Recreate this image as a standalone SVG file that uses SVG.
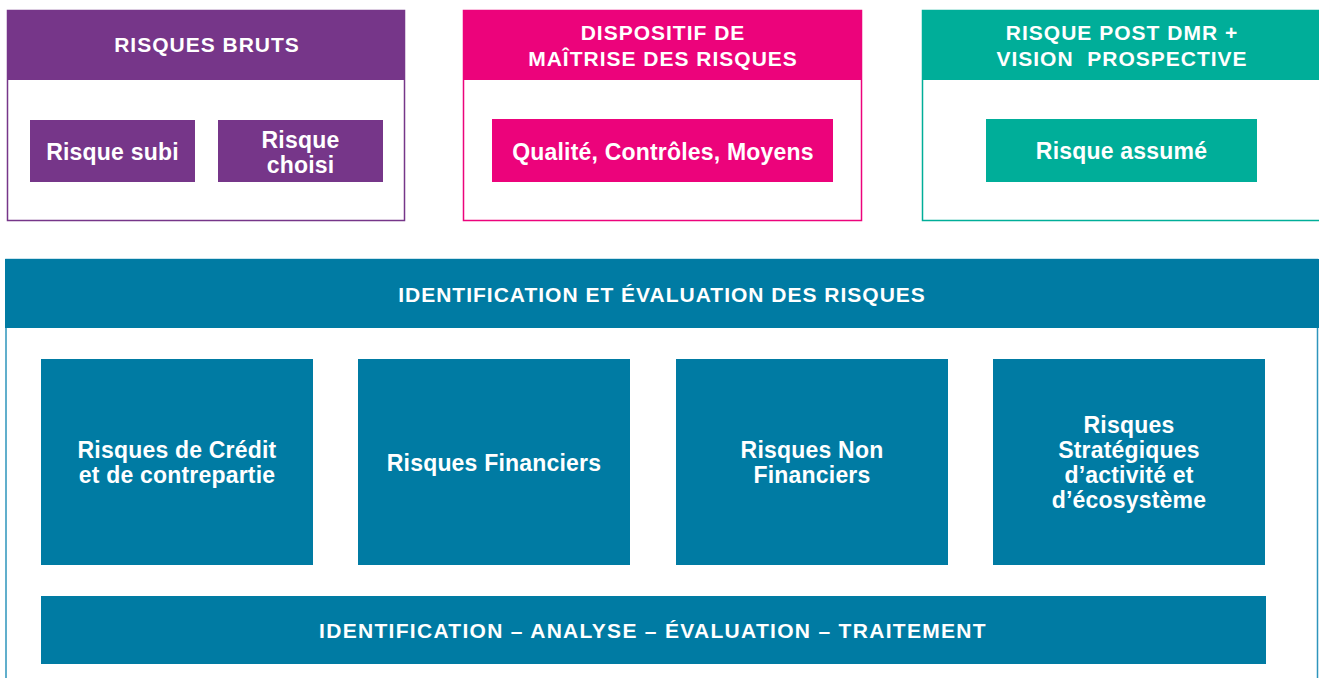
<svg xmlns="http://www.w3.org/2000/svg" width="1319" height="678" viewBox="0 0 1319 678">
<style>
text{font-family:"Liberation Sans",Arial,sans-serif;font-weight:bold;fill:#fff;text-anchor:middle}
.h{font-size:21px;letter-spacing:1px}
.f{font-size:21px;letter-spacing:1.3px}
.t{font-size:23px;letter-spacing:0.2px}
.p{fill:#763689}
.m{fill:#EC037B}
.g{fill:#00AE99}
.b{fill:#007BA3}
</style>
<rect width="1319" height="678" fill="#fff"/>
<g id="risques-bruts">
<rect x="7.5" y="10.5" width="397" height="210" fill="#fff" stroke="#763689" stroke-width="1.5"/>
<rect class="p" x="7" y="10" width="398" height="70"/>
<text class="h" x="207" y="52">RISQUES BRUTS</text>
</g>
<g id="risque-subi"><rect class="p" x="30" y="120" width="165" height="62"/><text class="t" x="112.5" y="160">Risque subi</text></g>
<g id="risque-choisi"><rect class="p" x="218" y="120" width="165" height="62"/><text class="t" x="300.5" y="148">Risque</text><text class="t" x="300.5" y="173">choisi</text></g>
<g id="dmr">
<rect x="463.5" y="10.5" width="398" height="210" fill="#fff" stroke="#EC037B" stroke-width="1.5"/>
<rect class="m" x="463" y="10" width="399" height="70"/>
<text class="h" x="663" y="40">DISPOSITIF DE</text>
<text class="h" x="663" y="66">MAÎTRISE DES RISQUES</text>
</g>
<g id="qualite"><rect class="m" x="492" y="119" width="341" height="63"/><text class="t" x="663" y="160">Qualité, Contrôles, Moyens</text></g>
<g id="post-dmr">
<rect x="922.5" y="10.5" width="400" height="210" fill="#fff" stroke="#00AE99" stroke-width="1.5"/>
<rect class="g" x="922" y="10" width="397" height="70"/>
<text class="h" x="1122" y="40">RISQUE POST DMR +</text>
<text class="h" x="1122" y="66" xml:space="preserve">VISION  PROSPECTIVE</text>
</g>
<g id="risque-assume"><rect class="g" x="986" y="119" width="271" height="63"/><text class="t" x="1121.5" y="159">Risque assumé</text></g>
<g id="identification">
<rect x="6" y="259.5" width="1311.5" height="430" fill="#fff" stroke="#2E95BC" stroke-width="1.5"/>
<rect class="b" x="5" y="259" width="1314" height="69"/>
<text class="h" x="662" y="302">IDENTIFICATION ET ÉVALUATION DES RISQUES</text>
</g>
<g id="credit"><rect class="b" x="41" y="359" width="272" height="206"/><text class="t" x="177" y="458">Risques de Crédit</text><text class="t" x="177" y="483">et de contrepartie</text></g>
<g id="financiers"><rect class="b" x="358" y="359" width="272" height="206"/><text class="t" x="494" y="471">Risques Financiers</text></g>
<g id="non-financiers"><rect class="b" x="676" y="359" width="272" height="206"/><text class="t" x="812" y="458">Risques Non</text><text class="t" x="812" y="483">Financiers</text></g>
<g id="strategiques"><rect class="b" x="993" y="359" width="272" height="206"/><text class="t" x="1129" y="433">Risques</text><text class="t" x="1129" y="458">Stratégiques</text><text class="t" x="1129" y="483">d’activité et</text><text class="t" x="1129" y="508">d’écosystème</text></g>
<g id="processus"><rect class="b" x="41" y="596" width="1225" height="68"/><text class="f" x="653" y="638">IDENTIFICATION – ANALYSE – ÉVALUATION – TRAITEMENT</text></g>
<g id="connectors"/>
</svg>
